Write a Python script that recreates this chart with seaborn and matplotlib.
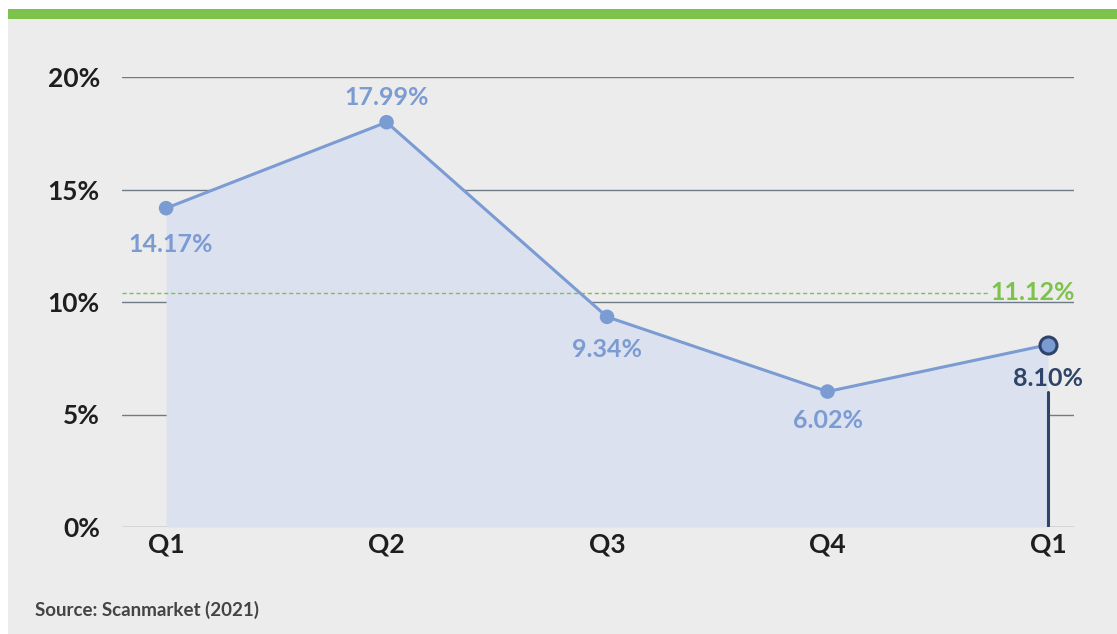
import matplotlib
matplotlib.use("Agg")
import matplotlib.pyplot as plt
from matplotlib.patches import Rectangle
import seaborn as sns
import pandas as pd

# chart data
quarters = ["Q1", "Q2", "Q3", "Q4", "Q1"]
rates = [14.17, 17.99, 9.34, 6.02, 8.10]
rate_labels = ["14.17%", "17.99%", "9.34%", "6.02%", "8.10%"]
avg_level = 10.4          # where the dashed average line is drawn
avg_label = "11.12%"
y_ticks = [0, 5, 10, 15, 20]
y_tick_labels = ["0%", "5%", "10%", "15%", "20%"]
source_text = "Source: Scanmarket (2021)"

BG = "#ECECEC"
LINE = "#7B9BD3"
FILL = "#DCE1F0"
NAVY = "#2E4468"
GREEN = "#7DC24B"
GRID = "#6E7B87"

sns.set_theme(style="white")
plt.rcParams["font.family"] = ["Lato", "DejaVu Sans"]
W = "bold"

df = pd.DataFrame({"pos": range(len(quarters)), "rate": rates})

fig = plt.figure(figsize=(11.17, 6.34), dpi=100, facecolor="white")
# grey panel and green top band
fig.patches.append(Rectangle((8 / 1117, 0), 1, (634 - 9) / 634, transform=fig.transFigure,
                             facecolor=BG, edgecolor="none", zorder=-2))
fig.patches.append(Rectangle((8 / 1117, (634 - 19) / 634), 1, 10 / 634, transform=fig.transFigure,
                             facecolor=GREEN, edgecolor="none", zorder=-1))

ax = fig.add_axes([122 / 1117, (634 - 527) / 634, (1074 - 122) / 1117, (527 - 77) / 634])
ax.set_facecolor("none")

# gridlines
for t in y_ticks:
    ax.axhline(t, color=GRID, lw=1.0, zorder=1)

ax.fill_between(df["pos"], 0, df["rate"], color=FILL, lw=0, zorder=2)
sns.lineplot(data=df, x="pos", y="rate", ax=ax, color=LINE, lw=2.2, zorder=3)
sns.scatterplot(data=df.iloc[:-1], x="pos", y="rate", ax=ax, color=LINE, s=110,
                edgecolor="none", zorder=4)
sns.scatterplot(data=df.iloc[-1:], x="pos", y="rate", ax=ax, color=LINE, s=150,
                edgecolor=NAVY, linewidth=2.2, zorder=5)

# vertical marker under the latest quarter
last = len(rates) - 1
ax.plot([last, last], [0, 6.0], color=NAVY, lw=2.2, zorder=4)

# average line
ax.plot([-0.2, 3.73], [avg_level, avg_level], color=GREEN, lw=1, ls=(0, (3, 2)), zorder=3)
ax.text(4.12, avg_level, avg_label, color=GREEN, fontsize=18, fontweight=W,
        ha="right", va="center", zorder=6)

# data labels
offsets = [(0.02, -1.6), (0, 1.1), (0, -1.45), (0, -1.3), (0, -1.5)]
colors = [LINE, LINE, LINE, LINE, NAVY]
for i, (lab, (dx, dy)) in enumerate(zip(rate_labels, offsets)):
    ax.text(i + dx, rates[i] + dy, lab, color=colors[i], fontsize=18, fontweight=W,
            ha="center", va="center", zorder=6)

ax.set_xlim(-0.2, 4.118)
ax.set_ylim(0, 20)
ax.set_xticks(range(len(quarters)))
ax.set_xticklabels(quarters, fontsize=19, fontweight=W, color="#1E1E1E")
ax.set_yticks(y_ticks)
ax.set_yticklabels(y_tick_labels, fontsize=19, fontweight=W, color="#1E1E1E")
ax.tick_params(axis="x", length=0, pad=4)
ax.tick_params(axis="y", length=0, pad=16)
ax.set_xlabel("")
ax.set_ylabel("")
for s in ax.spines.values():
    s.set_visible(False)

fig.text(35 / 1117, (634 - 610) / 634, source_text, fontsize=13.5, fontweight=W,
         color="#444444", ha="left", va="center")

fig.savefig("out.png", dpi=100, facecolor=fig.get_facecolor())
